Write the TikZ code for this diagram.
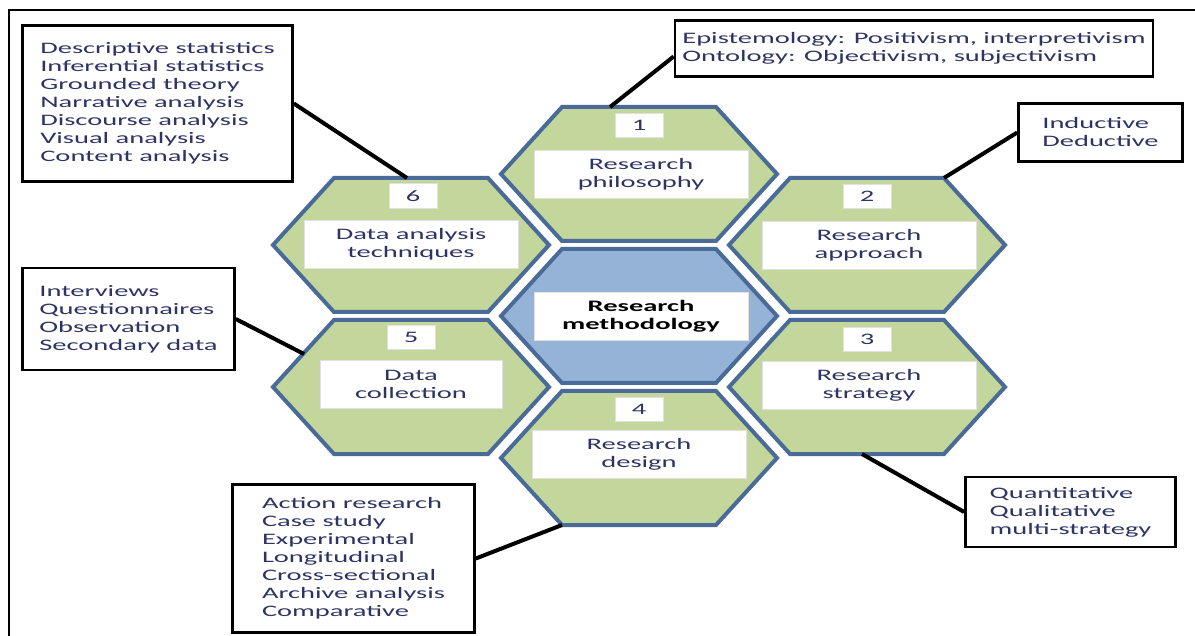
\documentclass[tikz,border=0pt]{standalone}
\usepackage{fontspec}
\setmainfont{Carlito}[FakeStretch=1.78]
\usetikzlibrary{calc, positioning}

\definecolor{HexGreen}{HTML}{C3D69B}
\definecolor{HexBlue}{HTML}{95B3D7}
\definecolor{HexEdge}{HTML}{4A6B98}
\definecolor{NoteText}{HTML}{2E3363}

\begin{document}
\begin{tikzpicture}[x=0.5pt, y=-0.5pt, font=\fontsize{8}{9}\selectfont]

\useasboundingbox (0,0) rectangle (1195,636);

\tikzset{
  hex cell/.style={
    draw=HexEdge,
    line width=2pt,
    fill=HexGreen
  },
  label box/.style={
    draw=black!12, fill=white,
    text=NoteText, align=center,
    minimum width=107pt, minimum height=24pt
  },
  number box/.style={
    draw=black!12, fill=white,
    text=NoteText,
    minimum width=24pt, minimum height=12pt
  },
  note box/.style={
    draw=black, fill=white,
    line width=1.3pt,
    text=NoteText, align=left
  },
  link line/.style={line width=2pt, black}
}

% outer frame
\draw[line width=1pt] (9,636) -- (9,10) -- (1195,10);

% honeycomb centres
\coordinate (h1) at (639,174);
\coordinate (h2) at (867,245);
\coordinate (h3) at (867,387);
\coordinate (h4) at (639,458);
\coordinate (h5) at (411,387);
\coordinate (h6) at (411,245);
\coordinate (hc) at (639,316);

\foreach \cell/\tint in {h1/HexGreen, h2/HexGreen, h3/HexGreen, h4/HexGreen,
                         h5/HexGreen, h6/HexGreen, hc/HexBlue} {
    \draw[hex cell, fill=\tint]
      (\cell) ++(-77,-67) -- ++(154,0) -- ++(61,67)
      -- ++(-61,67) -- ++(-154,0) -- ++(-61,-67) -- cycle;
}

% labels inside the cells
\node[label box] (t1) at ($(h1)+(2,0)$) {Research\\philosophy};
\node[label box] (t2) at ($(h2)+(2,0)$) {Research\\approach};
\node[label box] (t3) at ($(h3)+(2,-2)$) {Research\\strategy};
\node[label box] (t4) at ($(h4)+(0,-4)$) {Research\\design};
\node[label box, minimum width=91pt] (t5) at ($(h5)+(0,-3)$) {Data\\collection};
\node[label box] (t6) at ($(h6)+(0,-1)$) {Data analysis\\techniques};
\node[label box, text=black, font=\fontsize{8}{9}\selectfont\bfseries] (tc) at ($(hc)+(2,0)$) {Research\\methodology};

\node[number box] (n1) at ($(h1)+(0,-49)$) {1};
\node[number box] (n2) at ($(h2)+(0,-49)$) {2};
\node[number box] (n3) at ($(h3)+(0,-48)$) {3};
\node[number box] (n4) at ($(h4)+(0,-49)$) {4};
\node[number box] (n5) at ($(h5)+(0,-50)$) {5};
\node[number box] (n6) at ($(h6)+(2,-49)$) {6};

% notes round the honeycomb
\node[note box, minimum width=135pt, minimum height=78pt] (m6) at (157.5,103.5)
  {Descriptive statistics\\Inferential statistics\\Grounded theory\\Narrative analysis\\Discourse analysis\\Visual analysis\\Content analysis};
\node[note box, minimum width=239pt, minimum height=28pt] (m1) at (914,48.5)
  {Epistemology: Positivism, interpretivism\\Ontology: Objectivism, subjectivism};
\node[note box, minimum width=82pt, minimum height=29pt] (m2) at (1100.5,132.5)
  {Inductive\\Deductive};
\node[note box, minimum width=105pt, minimum height=35pt] (m3) at (1070.5,512)
  {Quantitative\\Qualitative\\multi-strategy};
\node[note box, minimum width=121pt, minimum height=74pt] (m4) at (353.5,558.5)
  {Action research\\Case study\\Experimental\\Longitudinal\\Cross-sectional\\Archive analysis\\Comparative};
\node[note box, minimum width=106pt, minimum height=51pt] (m5) at (128.5,319)
  {Interviews\\Questionnaires\\Observation\\Secondary data};

% where the links meet the cells
\coordinate (h1 top) at ($(h1)+(-29,-67)$);
\coordinate (h2 corner) at ($(h2)+(77,-67)$);
\coordinate (h3 base) at ($(h3)+(-5,67)$);
\coordinate (h4 corner) at ($(h4)+(-77,67)$);
\coordinate (h5 side) at ($(h5)+(-107,-33)$);
\coordinate (h6 top) at ($(h6)+(-4,-67)$);

\draw[link line] (m6.east) -- (h6 top);
\draw[link line] ([yshift=-4pt]m1.west) -- (h1 top);
\draw[link line] (m2.west) -- (h2 corner);
\draw[link line] (m3.west) -- (h3 base);
\draw[link line] (m4.east) -- (h4 corner);
\draw[link line] (m5.east) -- (h5 side);

\end{tikzpicture}
\end{document}
